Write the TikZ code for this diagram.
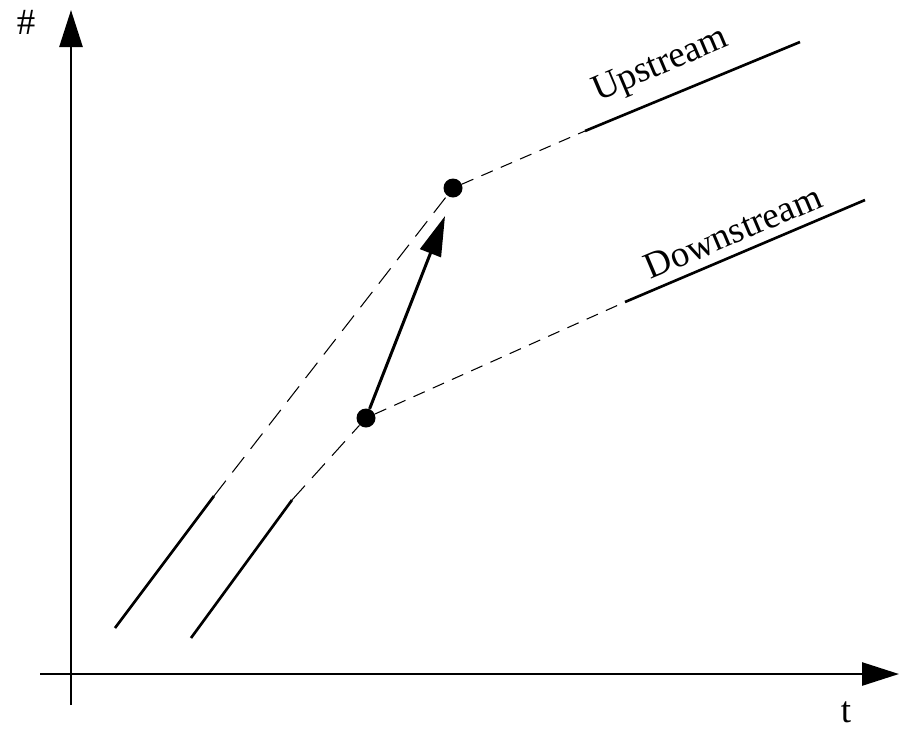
\documentclass[tikz,border=0pt]{standalone}
\usepackage{fontspec}
\setmainfont{Liberation Serif}
\usetikzlibrary{arrows.meta}
\begin{document}
\begin{tikzpicture}[x=0.02cm,y=-0.02cm,
  axis/.style={line width=1.5pt,-{Triangle[length=0.74cm,width=0.46cm]}},
  solidseg/.style={line width=1.5pt},
  longdash/.style={line width=0.6pt,dash pattern=on 11pt off 6pt},
  shortdash/.style={line width=0.6pt,dash pattern=on 7pt off 5pt},
  dot/.style={circle,fill,inner sep=0pt,minimum size=0.38cm},
  lbl/.style={inner sep=1pt,font=\fontsize{21}{25}\selectfont}]
\useasboundingbox (0,0) rectangle (899,728);
\coordinate (yb) at (71,705);
\coordinate (yt) at (71,10);
\coordinate (xl) at (40,674);
\coordinate (xr) at (899,674);
\draw[axis] (yb) -- (yt);
\draw[axis] (xl) -- (xr);
\node[lbl] (hash) at (26,22) {\#};
\node[lbl] (tlab) at (846,712) {t};
\node[dot] (lower) at (366,418) {};
\node[dot] (upper) at (453,188) {};
\coordinate (up1) at (115,628);
\coordinate (up2) at (214,496);
\coordinate (up3) at (585,131);
\coordinate (up4) at (800,42);
\coordinate (dn1) at (191,638);
\coordinate (dn2) at (292,500);
\coordinate (dn3) at (625,302);
\coordinate (dn4) at (865,200);
\draw[solidseg] (up1) -- (up2);
\draw[longdash] (up2) -- (upper);
\draw[shortdash] (upper) -- (up3);
\draw[solidseg] (up3) -- (up4);
\draw[solidseg] (dn1) -- (dn2);
\draw[longdash] (dn2) -- (lower);
\draw[shortdash] (lower) -- (dn3);
\draw[solidseg] (dn3) -- (dn4);
\coordinate (tip) at (445,216);
\draw[line width=1.7pt,-{Triangle[length=0.8cm,width=0.44cm]}] (lower) -- (tip);
\node[lbl,rotate=23] (uplab) at (661,66) {Upstream};
\node[lbl,rotate=23] (dnlab) at (733,232) {Downstream};
\end{tikzpicture}
\end{document}
